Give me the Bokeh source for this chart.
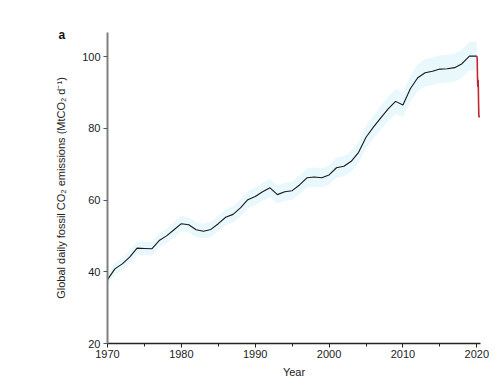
from bokeh.plotting import figure
from bokeh.models import ColumnDataSource, Title, Range1d, FixedTicker
from bokeh.embed import file_html
from bokeh.resources import INLINE

# Annual global fossil CO2 emissions (MtCO2 per day), plotted at year-end positions
years = list(range(1970, 2021))
emissions = [37.8, 40.8, 42.2, 44.1, 46.6, 46.5, 46.4, 48.7, 50.0, 51.7,
             53.4, 53.1, 51.7, 51.3, 51.8, 53.4, 55.2, 56.0, 57.8, 60.1,
             61.0, 62.3, 63.4, 61.5, 62.3, 62.6, 64.2, 66.2, 66.4, 66.2,
             67.0, 69.0, 69.4, 70.8, 73.3, 77.5, 80.3, 82.9, 85.4, 87.5,
             86.5, 91.0, 94.1, 95.5, 95.9, 96.5, 96.6, 96.9, 98.0, 100.1,
             100.1]
uncertainty_pct = 0.04  # +/- relative uncertainty band

# 2020 daily emissions (Jan to end of April)
days_2020 = [2020.0, 2020.03, 2020.06, 2020.09, 2020.12, 2020.15, 2020.18,
             2020.21, 2020.24, 2020.27, 2020.30, 2020.33]
daily_2020 = [100.1, 99.8, 99.0, 94.5, 92.0, 91.5, 93.5, 91.0, 87.0, 84.0,
              83.0, 83.5]

x_ticks = [1970, 1980, 1990, 2000, 2010, 2020]
x_minor = [1975, 1985, 1995, 2005, 2015]
y_ticks = [20, 40, 60, 80, 100]

lower = [v * (1 - uncertainty_pct) for v in emissions]
upper = [v * (1 + uncertainty_pct) for v in emissions]
src = ColumnDataSource(dict(x=years, y=emissions, lo=lower, hi=upper))
src20 = ColumnDataSource(dict(x=days_2020, y=daily_2020))

p = figure(width=494, height=382, output_backend="svg", toolbar_location=None,
           x_range=Range1d(1970, 2020.5), y_range=Range1d(20, 106.7),
           min_border_left=107, min_border_right=14, min_border_top=32,
           min_border_bottom=39)
p.outline_line_color = None
p.xgrid.visible = False
p.ygrid.visible = False
p.background_fill_color = "white"
p.border_fill_color = "white"

p.varea(x="x", y1="lo", y2="hi", source=src, fill_color="#e8f8fc", fill_alpha=1.0)
p.line(x="x", y="y", source=src, line_color="#1a1a1a", line_width=1.1)
p.line(x="x", y="y", source=src20, line_color="#c1272d", line_width=1.6)

font = "Liberation Sans"
xa = p.xaxis[0]
xa.ticker = FixedTicker(ticks=x_ticks, minor_ticks=x_minor)
xa.axis_label = "Year"
xa.axis_line_color = "#222222"
xa.axis_line_width = 1.3
xa.major_tick_line_color = "#222222"
xa.minor_tick_line_color = "#222222"
xa.major_tick_out = 4
xa.major_tick_in = 0
xa.minor_tick_out = 3
xa.minor_tick_in = 0
xa.major_label_text_font = font
xa.major_label_text_font_size = "11px"
xa.major_label_text_color = "#222222"
xa.major_label_standoff = 2
xa.axis_label_text_font = font
xa.axis_label_text_font_style = "normal"
xa.axis_label_text_font_size = "11px"
xa.axis_label_text_color = "#222222"
xa.axis_label_standoff = 5

ya = p.yaxis[0]
ya.ticker = FixedTicker(ticks=y_ticks)
ya.axis_label = "Global daily fossil CO\u2082 emissions (MtCO\u2082 d\u207b\u00b9)"
ya.axis_line_color = "#808080"
ya.axis_line_width = 2
ya.major_tick_line_color = "#555555"
ya.major_tick_out = 4
ya.major_tick_in = 0
ya.minor_tick_line_color = None
ya.major_label_text_font = font
ya.major_label_text_font_size = "11px"
ya.major_label_text_color = "#222222"
ya.major_label_standoff = 3
ya.axis_label_text_font = font
ya.axis_label_text_font_style = "normal"
ya.axis_label_text_font_size = "11px"
ya.axis_label_text_color = "#222222"
ya.axis_label_standoff = 12

panel = Title(text="a", align="left", offset=-49, standoff=-19,
              text_font=font, text_font_style="bold", text_font_size="12px",
              text_color="#111111")
p.add_layout(panel, "above")

open("out.html", "w").write(file_html(p, INLINE))
